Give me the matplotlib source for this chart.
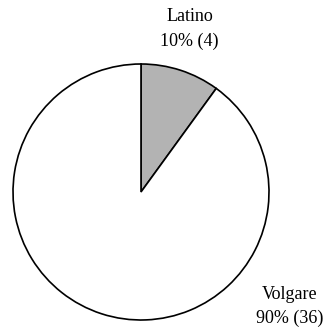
import matplotlib
matplotlib.use("Agg")
import matplotlib.pyplot as plt

# ---- data
labels = ["Latino", "Volgare"]
counts = [4, 36]
pcts = [10, 90]
colors = ["#b3b3b3", "white"]

plt.rcParams["font.family"] = ["Liberation Serif", "DejaVu Serif"]

fig = plt.figure(figsize=(3.29, 3.28), dpi=100)
ax = fig.add_axes([13 / 329, 8 / 328, 256 / 329, 256 / 328])

wedges, _ = ax.pie(counts, colors=colors, startangle=90, counterclock=False,
                   radius=1.0,
                   wedgeprops=dict(edgecolor="black", linewidth=1.2))

# label positions (data coords)
label_pos = [(0.38, 1.37), (1.16, -0.80)]
for lab, c, p, (x, y) in zip(labels, counts, pcts, label_pos):
    ax.text(x, y, lab, ha="center", va="center", fontsize=13)
    ax.text(x, y - 0.19, f"{p}% ({c})", ha="center", va="center", fontsize=13)

ax.set_xlim(-1, 1)
ax.set_ylim(-1, 1)
ax.set_aspect("equal")
ax.axis("off")

fig.savefig("out.png", dpi=100)
